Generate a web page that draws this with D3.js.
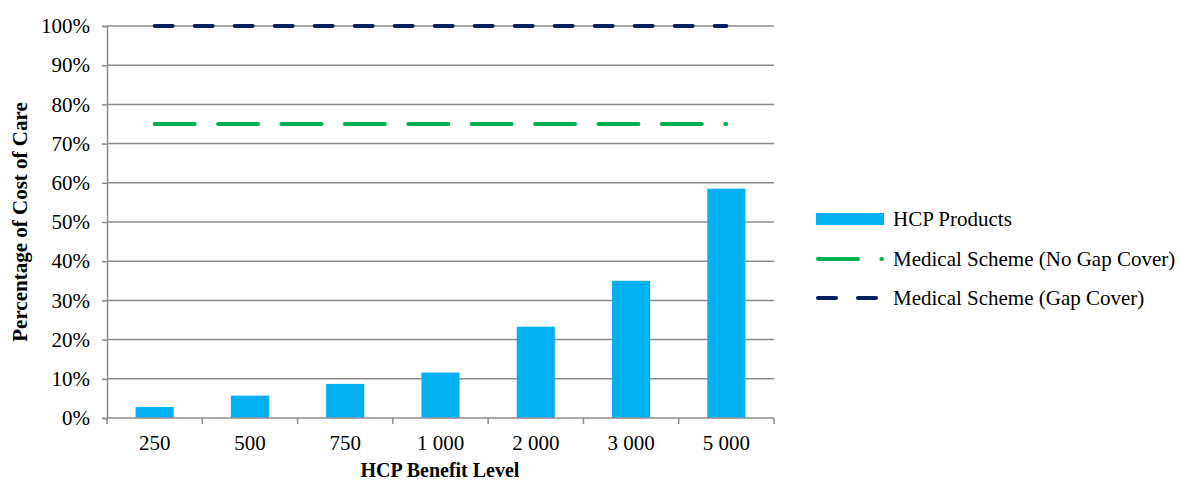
<!DOCTYPE html>
<html>
<head>
<meta charset="utf-8">
<script src="https://cdn.jsdelivr.net/npm/d3@7"></script>
<style>
  body { margin: 0; background: #fff; }
  text { font-family: "Liberation Serif", "Times New Roman", serif; }
</style>
</head>
<body>
<div class="container"></div>
<script>
// chart data
const categories = ["250", "500", "750", "1 000", "2 000", "3 000", "5 000"];
const hcpProducts = [2.8, 5.7, 8.7, 11.6, 23.3, 35.0, 58.5];
const noGapCover = [75, 75, 75, 75, 75, 75, 75];
const gapCover = [100, 100, 100, 100, 100, 100, 100];
const yTicks = [0, 10, 20, 30, 40, 50, 60, 70, 80, 90, 100];
const legendLabels = ["HCP Products", "Medical Scheme (No Gap Cover)", "Medical Scheme (Gap Cover)"];

const w = 1181;
const h = 483;
const padding = {left: 107, top: 26, right: 407, bottom: 65};

const xScale = d3.scaleBand()
                 .domain(categories)
                 .range([padding.left, w - padding.right])
                 .paddingInner(0.6)
                 .paddingOuter(0.3);

const yScale = d3.scaleLinear()
                 .domain([0, 100])
                 .range([h - padding.bottom, padding.top]);

const svg = d3.select(".container")
              .append("svg")
              .attr("width", w)
              .attr("height", h);

const gridColor = "#8c8c8c";

// gridlines
svg.append("g")
   .selectAll("line")
   .data(yTicks.filter(d => d > 0))
   .enter()
   .append("line")
   .attr("x1", padding.left)
   .attr("x2", w - padding.right)
   .attr("y1", d => yScale(d))
   .attr("y2", d => yScale(d))
   .attr("stroke", gridColor)
   .attr("stroke-width", 1.5);

// bars
svg.append("g")
   .selectAll("rect")
   .data(hcpProducts)
   .enter()
   .append("rect")
   .attr("x", (d, i) => xScale(categories[i]))
   .attr("y", d => yScale(d))
   .attr("width", xScale.bandwidth())
   .attr("height", d => yScale(0) - yScale(d))
   .attr("fill", "#00b0f0");

// lines
const centre = (d, i) => xScale(categories[i]) + xScale.bandwidth() / 2;
const line = d3.line().x(centre).y(d => yScale(d));
const greenDash = "40 23.4";
const navyDash = "18 22";

svg.append("path")
   .datum(noGapCover)
   .attr("d", line)
   .attr("fill", "none")
   .attr("stroke", "#00b050")
   .attr("stroke-width", 4)
   .attr("stroke-linecap", "round")
   .attr("stroke-dasharray", greenDash);

svg.append("path")
   .datum(gapCover)
   .attr("d", line)
   .attr("fill", "none")
   .attr("stroke", "#002060")
   .attr("stroke-width", 4)
   .attr("stroke-linecap", "round")
   .attr("stroke-dasharray", navyDash);

// axes
const xAxis = d3.axisBottom(xScale).tickSize(0).tickPadding(17);
const gx = svg.append("g")
   .attr("transform", "translate(0," + yScale(0) + ")")
   .call(xAxis);
gx.select(".domain").remove();
gx.selectAll("text").attr("font-size", 21).attr("fill", "#000").style("font-family", "Liberation Serif");

svg.append("g")
   .selectAll("line")
   .data(d3.range(categories.length + 1))
   .enter()
   .append("line")
   .attr("x1", i => padding.left + i * (w - padding.right - padding.left) / categories.length)
   .attr("x2", i => padding.left + i * (w - padding.right - padding.left) / categories.length)
   .attr("y1", yScale(0))
   .attr("y2", yScale(0) + 6)
   .attr("stroke", gridColor)
   .attr("stroke-width", 1.5);

svg.append("line")
   .attr("x1", padding.left).attr("x2", w - padding.right)
   .attr("y1", yScale(0)).attr("y2", yScale(0))
   .attr("stroke", gridColor).attr("stroke-width", 1.5);

const yAxis = d3.axisLeft(yScale).tickValues(yTicks).tickSize(5).tickPadding(12)
                .tickFormat(d => d + "%");
const gy = svg.append("g")
   .attr("transform", "translate(" + padding.left + ",0)")
   .call(yAxis);
gy.select(".domain").attr("stroke", gridColor).attr("stroke-width", 1.5);
gy.selectAll(".tick line").attr("stroke", gridColor).attr("stroke-width", 1.5);
gy.selectAll("text").attr("font-size", 21).attr("fill", "#000").style("font-family", "Liberation Serif");

// axis titles
svg.append("text")
   .attr("x", 440)
   .attr("y", 477)
   .attr("text-anchor", "middle")
   .attr("font-size", 20)
   .attr("font-weight", "bold")
   .text("HCP Benefit Level");

svg.append("text")
   .attr("transform", "translate(27,222) rotate(-90)")
   .attr("text-anchor", "middle")
   .attr("font-size", 21)
   .attr("font-weight", "bold")
   .text("Percentage of Cost of Care");

// legend
const legend = svg.append("g").attr("transform", "translate(816,0)");
legend.append("rect")
      .attr("x", 0).attr("y", 213).attr("width", 68).attr("height", 12)
      .attr("fill", "#00b0f0");
legend.append("line")
      .attr("x1", 2).attr("x2", 66).attr("y1", 259).attr("y2", 259)
      .attr("stroke", "#00b050").attr("stroke-width", 4)
      .attr("stroke-linecap", "round").attr("stroke-dasharray", greenDash);
legend.append("line")
      .attr("x1", 2).attr("x2", 62).attr("y1", 298).attr("y2", 298)
      .attr("stroke", "#002060").attr("stroke-width", 4)
      .attr("stroke-linecap", "round").attr("stroke-dasharray", navyDash);
legend.selectAll("text.lbl")
      .data(legendLabels)
      .enter()
      .append("text")
      .attr("class", "lbl")
      .attr("x", 77)
      .attr("y", (d, i) => [219, 259, 298][i] + 7)
      .attr("font-size", 21)
      .attr("fill", "#000")
      .text(d => d);
</script>
</body>
</html>
